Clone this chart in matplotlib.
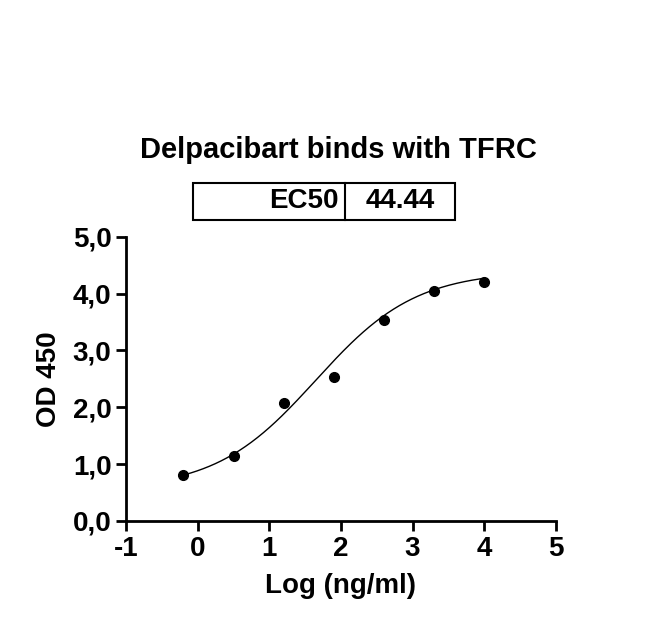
import numpy as np
import matplotlib
matplotlib.use("Agg")
import matplotlib.pyplot as plt
from matplotlib.patches import Rectangle

log_conc = [-0.2, 0.5, 1.2, 1.9, 2.6, 3.3, 4.0]
od450 = [0.80, 1.15, 2.08, 2.53, 3.53, 4.05, 4.20]
ec50 = 44.44
# 4PL fit parameters (bottom, top, hill)
bottom, top, hill = 0.55, 4.40, 0.62

plt.rcParams['font.family'] = ['Liberation Sans', 'DejaVu Sans']
plt.rcParams['font.weight'] = 'bold'
plt.rcParams['axes.unicode_minus'] = False

fig = plt.figure(figsize=(6.5, 6.4), dpi=100)
ax = fig.add_axes([0.194, 0.186, 0.661, 0.444])

xs = np.linspace(min(log_conc), max(log_conc), 200)
ys = bottom + (top - bottom) / (1 + 10 ** ((np.log10(ec50) - xs) * hill))
ax.plot(xs, ys, color='black', lw=1)
ax.plot(log_conc, od450, 'o', color='black', ms=7)

ax.set_xlim(-1, 5)
ax.set_ylim(0, 5)
ax.set_xticks(range(-1, 6))
ax.set_xticklabels([str(v) for v in range(-1, 6)])
ax.set_yticks(np.arange(0, 5.1, 1))
ax.set_yticklabels([f"{v:.1f}".replace('.', ',') for v in np.arange(0, 5.1, 1)])
for s in ['top', 'right']:
    ax.spines[s].set_visible(False)
for s in ['left', 'bottom']:
    ax.spines[s].set_linewidth(2)
ax.tick_params(width=2, length=7, labelsize=20)
for lbl in ax.get_xticklabels() + ax.get_yticklabels():
    lbl.set_fontweight('bold')
ax.set_xlabel('Log (ng/ml)', fontsize=20, fontweight='bold', labelpad=8)
ax.set_ylabel('OD 450', fontsize=20, fontweight='bold', labelpad=8)

fig.text(0.52, 0.766, 'Delpacibart binds with TFRC', ha='center', va='center',
         fontsize=21, fontweight='bold')
# EC50 table
x0, x1, xm = 193/650, 455/650, 345/650
y0, y1 = 1 - 220/640, 1 - 183/640
fig.patches.append(Rectangle((x0, y0), x1 - x0, y1 - y0, transform=fig.transFigure,
                             fill=False, lw=1.5, ec='black'))
fig.add_artist(plt.Line2D([xm, xm], [y0, y1], transform=fig.transFigure, color='black', lw=1.5))
fig.text(xm - 0.01, (y0 + y1) / 2, 'EC50', ha='right', va='center', fontsize=20, fontweight='bold')
fig.text((xm + x1) / 2, (y0 + y1) / 2, f'{ec50:.2f}', ha='center', va='center', fontsize=20, fontweight='bold')

fig.savefig('out.png', dpi=100)
